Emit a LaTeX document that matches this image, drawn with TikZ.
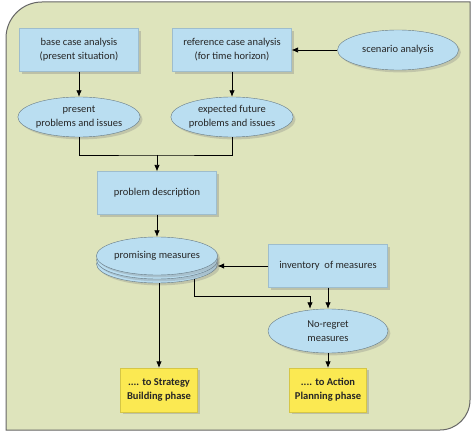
\documentclass[tikz,border=0pt]{standalone}
\usepackage{fontspec}
\setmainfont{Carlito}
\usetikzlibrary{shapes,arrows,arrows.meta,shadows,positioning}
\definecolor{panel}{RGB}{222,228,188}
\definecolor{boxblue}{RGB}{186,222,241}
\definecolor{boxyellow}{RGB}{251,233,82}

\begin{document}
\begin{tikzpicture}[x=1pt,y=-1pt,
  every node/.style={font=\fontsize{10.5}{14}\selectfont, text=black!85, align=center},
  box/.style={rectangle, fill=boxblue, draw=boxblue!85!black, very thin,
    minimum width=119pt, minimum height=43pt, drop shadow={opacity=0.35}},
  oval/.style={ellipse, fill=boxblue, draw=boxblue!55!black, thin, inner sep=0pt,
    minimum width=121pt, minimum height=40pt, drop shadow={opacity=0.3}},
  phase/.style={rectangle, fill=boxyellow, draw=boxyellow!85!black, very thin,
    minimum width=77pt, minimum height=44pt, font=\fontsize{10.5}{14}\selectfont\bfseries,
    drop shadow={opacity=0.35}},
  arr/.style={-{Latex[length=6.5pt,width=5.5pt]}, thick},
  link/.style={thick}]
\useasboundingbox (0,0) rectangle (474,441);

% background panel
\draw[fill=panel, draw=black!60, line width=1pt]
  (6,430) -- (6,38) arc[start angle=180, end angle=270, radius=36]
  -- (470,2) -- (470,400) arc[start angle=0, end angle=90, radius=30] -- cycle;

\node[box] (base) at (79,50) {base case analysis\\(present situation)};
\node[box] (ref) at (232,50) {reference case analysis\\(for time horizon)};
\node[oval] (scen) at (398,50) {scenario analysis};
\node[oval] (present) at (79,117) {present\\problems and issues};
\node[oval] (future) at (232,117) {expected future\\problems and issues};
\node[box] (prob) at (157,193) {problem description};

% stacked measures
\node[oval, minimum height=38pt] (pm3) at (157,264) {};
\node[oval, minimum height=38pt] (pm2) at (157,260) {};
\node[oval, minimum height=38pt] (pm) at (157,256) {promising measures};

\node[box] (inv) at (328,266) {inventory~ of measures};
\node[oval, minimum width=120pt, minimum height=44pt] (nr) at (328,331) {No-regret\\measures};
\node[phase] (strat) at (159,390) {.... to Strategy\\Building phase};
\node[phase] (act) at (328,390) {.... to Action\\Planning phase};

\coordinate (join) at (157,155);
\coordinate (nrin) at (310,296);

\draw[arr] (base) -- (present);
\draw[arr] (ref) -- (future);
\draw[arr] (scen) -- (ref);
\draw[link] (present.south) |- (join) -| (future.south);
\draw[arr] (join) -- (prob);
\draw[arr] (prob) -- (pm);
\draw[arr] (inv.west) -- (inv.west -| pm2.east);
\draw[arr] (pm3.-22) |- (nrin) -- (nrin |- nr.north);
\draw[arr] (inv.south) -- (nr.north);
\draw[arr] (strat.north |- pm3.south) -- (strat);
\draw[arr] (nr) -- (act);
\end{tikzpicture}
\end{document}
